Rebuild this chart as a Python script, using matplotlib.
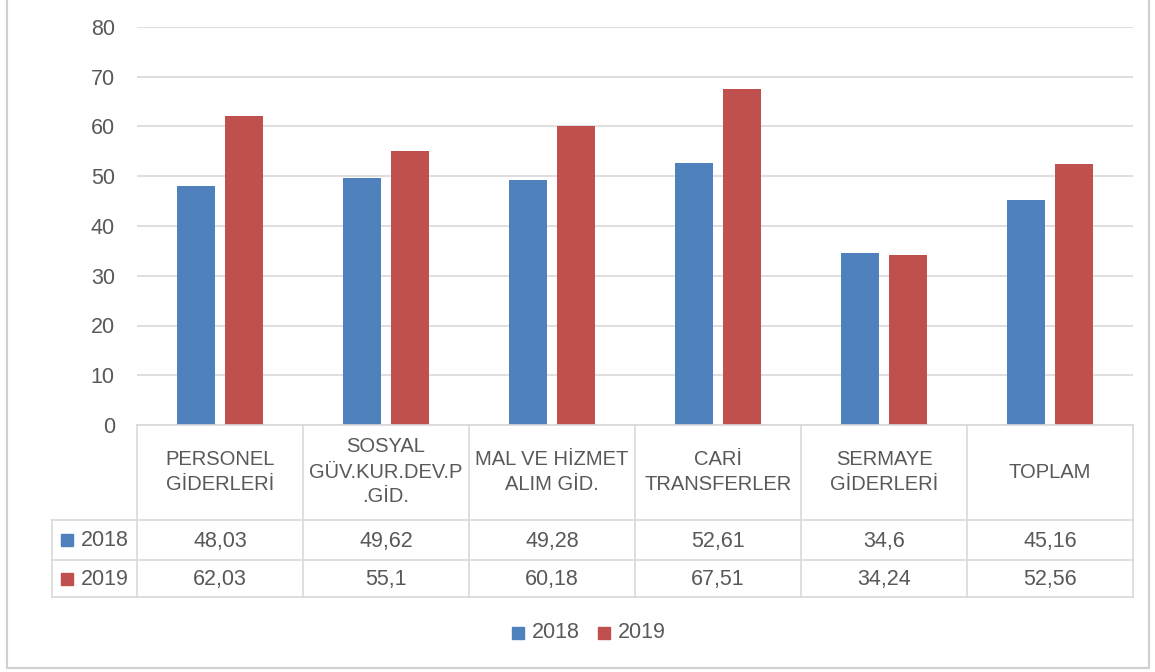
import numpy as np
import matplotlib
matplotlib.use("Agg")
import matplotlib.pyplot as plt
from matplotlib.patches import Rectangle

# data
categories = ["PERSONEL\nGİDERLERİ", "SOSYAL\nGÜV.KUR.DEV.P\n.GİD.", "MAL VE HİZMET\nALIM GİD.",
              "CARİ\nTRANSFERLER", "SERMAYE\nGİDERLERİ", "TOPLAM"]
years = ["2018", "2019"]
v2018 = [48.03, 49.62, 49.28, 52.61, 34.6, 45.16]
v2019 = [62.03, 55.1, 60.18, 67.51, 34.24, 52.56]
colors = ["#4F81BD", "#C0504D"]

plt.rcParams['font.family'] = ['Liberation Sans', 'DejaVu Sans']
txt = "#595959"
grid = "#d9d9d9"
fs = 15.5

W, H = 1155, 672
fig = plt.figure(figsize=(W / 100, H / 100), dpi=100)

def fx(px):
    return px / W

def fy(py):
    return 1 - py / H

# bar axes
x0, x1, ytop, ybot = 137, 1133, 27, 425
ax = fig.add_axes([fx(x0), fy(ybot), fx(x1 - x0), (ybot - ytop) / H])
x = np.arange(len(categories))
bw = 0.229
off = 0.145
ax.bar(x - off, v2018, bw, color=colors[0], zorder=3)
ax.bar(x + off, v2019, bw, color=colors[1], zorder=3)
ax.set_xlim(-0.5, len(categories) - 0.5)
ax.set_ylim(0, 80)
ax.set_yticks(range(0, 81, 10))
ax.yaxis.grid(True, color=grid, lw=1.2, zorder=0)
ax.set_xticks([])
for s in ax.spines.values():
    s.set_visible(False)
ax.tick_params(axis='y', length=0, pad=16, labelsize=fs, labelcolor=txt)

# data table
cw = (x1 - x0) / len(categories)
lx = 52
rows_y = [425, 520, 560, 597]
tax = fig.add_axes([0, 0, 1, 1])
tax.set_xlim(0, W)
tax.set_ylim(H, 0)
tax.axis('off')
lc = "#d9d9d9"
tax.plot([x0, x1], [425, 425], color=lc, lw=1.2)
for yy in rows_y[1:]:
    tax.plot([lx, x1], [yy, yy], color=lc, lw=1.2)
for i in range(len(categories) + 1):
    tax.plot([x0 + i * cw] * 2, [425, 597], color=lc, lw=1.2)
tax.plot([lx, lx], [520, 597], color=lc, lw=1.2)

for i, c in enumerate(categories):
    cx = x0 + (i + 0.5) * cw
    tax.text(cx, 472, c, ha='center', va='center', fontsize=14.5, color=txt, linespacing=1.4)
    for r, vals in enumerate([v2018, v2019]):
        cy = (rows_y[r + 1] + rows_y[r + 2]) / 2
        tax.text(cx, cy + 1, f"{vals[i]:g}".replace(".", ","), ha='center', va='center',
                 fontsize=fs, color=txt)
for r, yr in enumerate(years):
    cy = (rows_y[r + 1] + rows_y[r + 2]) / 2
    tax.add_patch(Rectangle((61, cy - 6), 12, 12, color=colors[r]))
    tax.text(81, cy + 1, yr, ha='left', va='center', fontsize=fs, color=txt)

# legend
for r, yr in enumerate(years):
    lx0 = 512 + r * 86
    tax.add_patch(Rectangle((lx0, 627), 12, 12, color=colors[r]))
    tax.text(lx0 + 20, 633, yr, ha='left', va='center', fontsize=fs, color=txt)

# outer border
tax.plot([7, 7, 1149, 1149], [0, 668, 668, 0], color="#d0d0d0", lw=1.5)

fig.savefig("out.png", dpi=100)
